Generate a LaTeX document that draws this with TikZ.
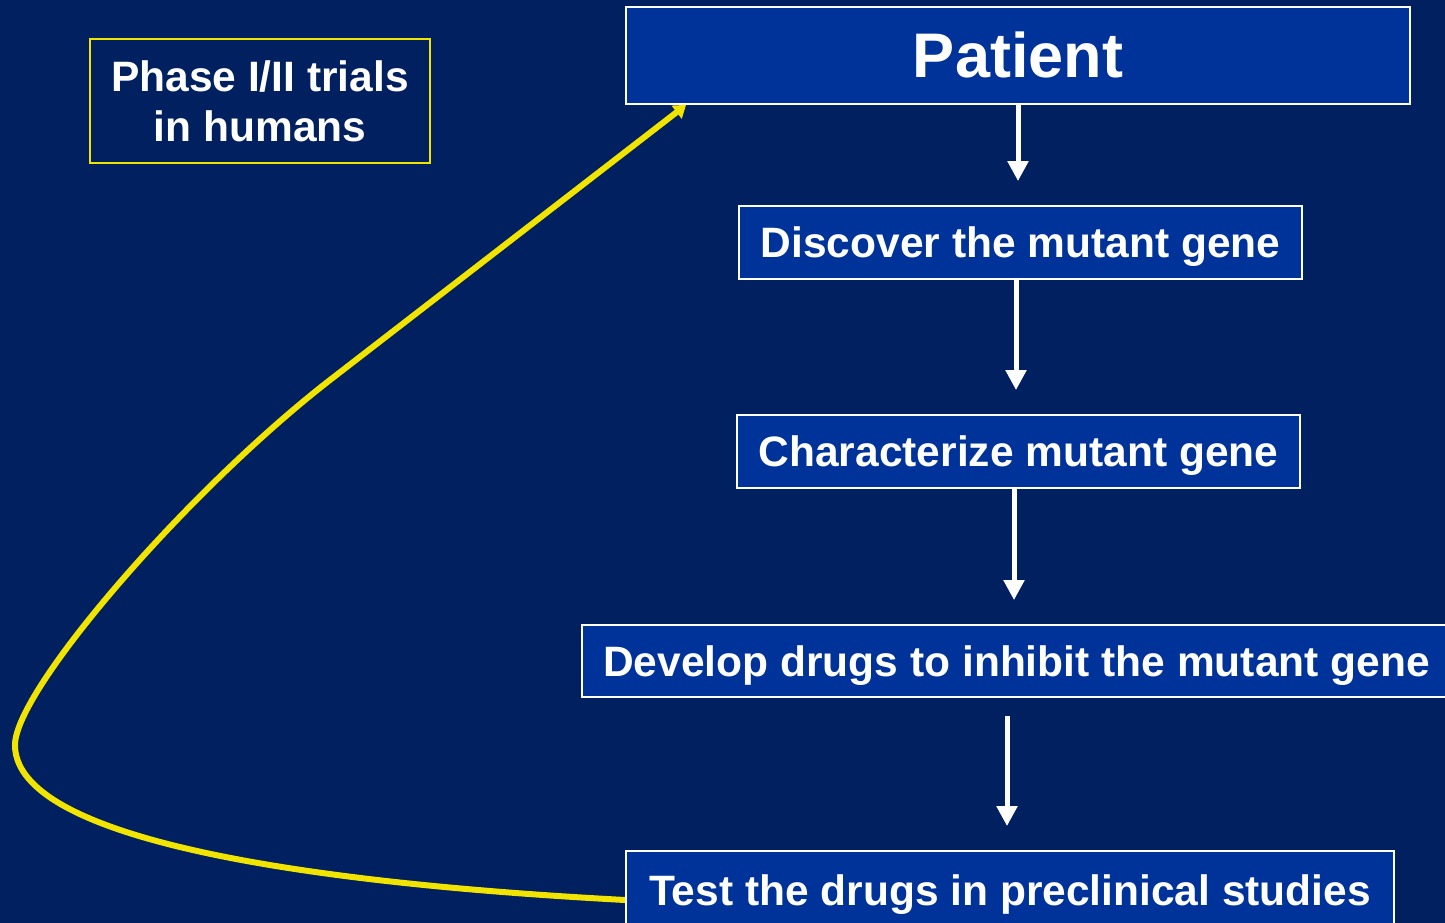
\documentclass[tikz,border=0pt]{standalone}
\usepackage{fontspec}
\setmainfont{Liberation Sans}
\usetikzlibrary{arrows.meta}
\definecolor{bg}{RGB}{0,32,96}
\definecolor{boxblue}{RGB}{0,51,153}
\definecolor{yel}{RGB}{240,228,0}
\tikzset{
  stepbox/.style={draw=white, line width=1.8pt, fill=boxblue, text=white, inner sep=0pt,
    text height=30.4pt, text depth=0pt,
    font=\bfseries\fontsize{42.5}{50}\selectfont},
  warr/.style={draw=white, line width=5pt, -{Triangle[width=20pt,length=20pt]}},
  yarr/.style={draw=yel, line width=6pt, -{Triangle[width=16pt,length=12pt]}},
}
\begin{document}
\begin{tikzpicture}[x=1pt,y=-1pt]
\fill[bg] (0,0) rectangle (1445,923);
\useasboundingbox (0,0) rectangle (1445,923);

\node[stepbox, minimum width=784pt, minimum height=97pt, text height=45pt,
  font=\bfseries\fontsize{63}{70}\selectfont] (patient) at (1018,55.5) {Patient};
\node[stepbox, minimum width=563pt, minimum height=73pt] (discover) at (1020.5,242.5) {Discover the mutant gene};
\node[stepbox, minimum width=563pt, minimum height=73pt] (character) at (1018.5,451.5) {Characterize mutant gene};
\node[stepbox, minimum width=869pt, minimum height=72pt] (develop) at (1016.5,661) {Develop drugs to inhibit the mutant gene};
\node[stepbox, minimum width=768pt, minimum height=78pt] (test) at (1010,890) {Test the drugs in preclinical studies};
\node[draw=yel, line width=1.8pt, text=white, inner sep=0pt, align=center,
  minimum width=340pt, minimum height=124pt,
  font=\bfseries\fontsize{42.5}{50}\selectfont] (phase) at (260,101) {Phase I/II trials\\in humans};

\coordinate (c1) at (1018,0);
\coordinate (c2) at (1016,0);
\coordinate (c3) at (1014,0);
\coordinate (c4) at (1007,0);
\draw[warr, shorten >=24pt] (patient.south -| c1) -- (discover.north -| c1);
\draw[warr, shorten >=24pt] (discover.south -| c2) -- (character.north -| c2);
\draw[warr, shorten >=24pt] (character.south -| c3) -- (develop.north -| c3);
\draw[warr, shorten <=18pt, shorten >=24pt] (develop.south -| c4) -- (test.north -| c4);

\coordinate (ystart) at ([yshift=-10pt]test.west);
\coordinate (yend) at ([xshift=61pt]patient.south west);
\draw[yarr] (ystart) .. controls (250,880) and (15,830) .. (15,745)
  .. controls (15,690) and (188,490) .. (330,380) -- (yend);
\end{tikzpicture}
\end{document}
